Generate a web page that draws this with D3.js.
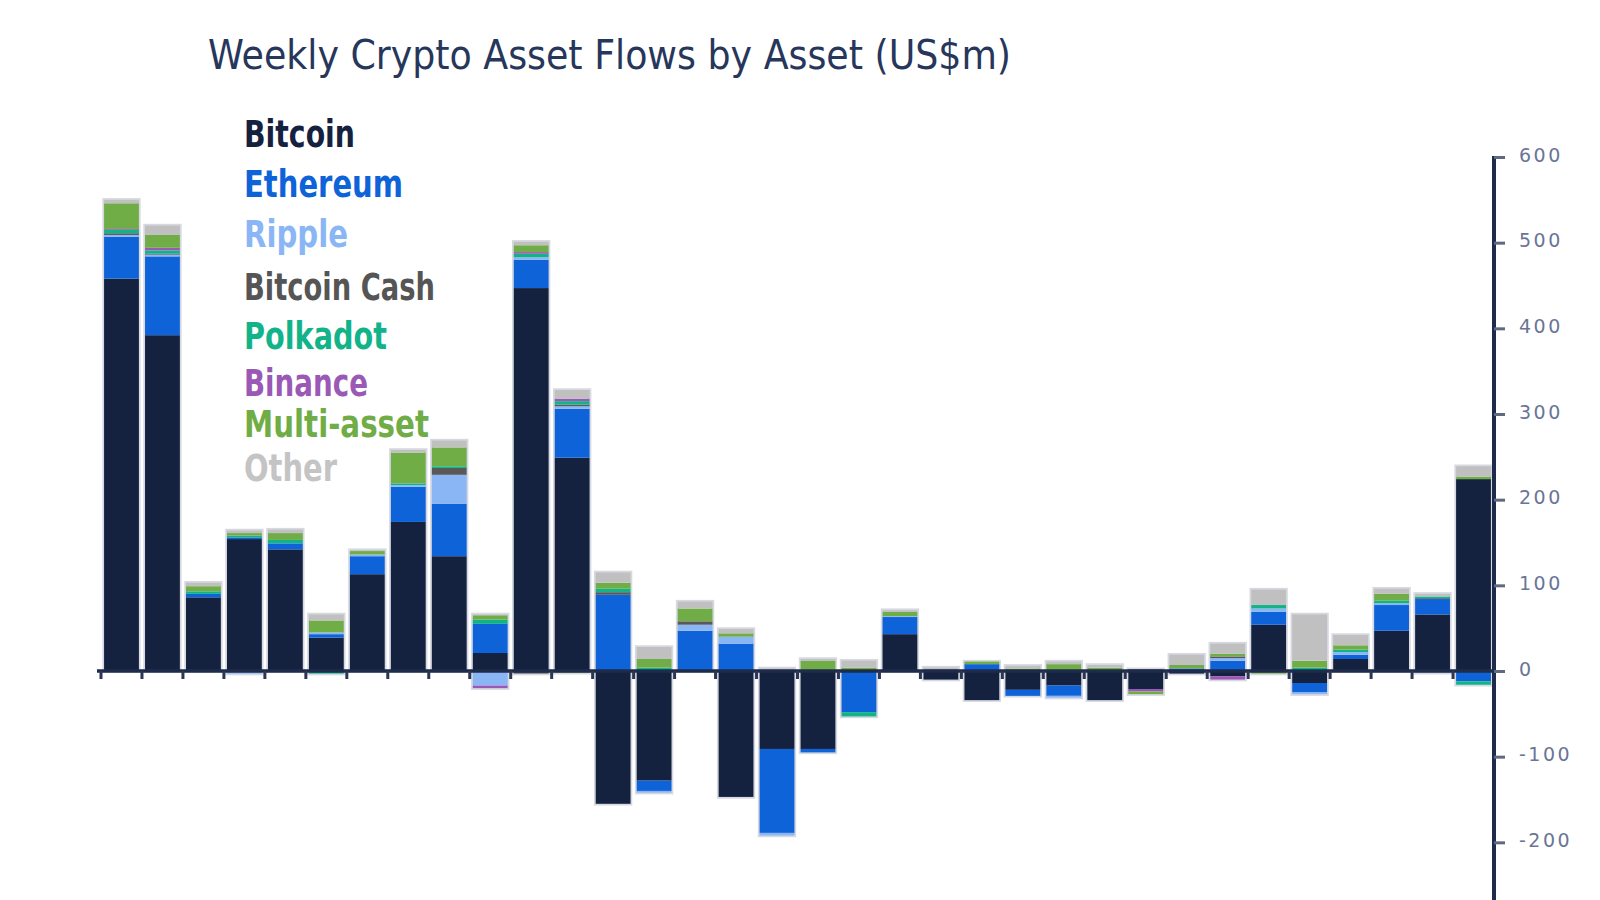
<!DOCTYPE html>
<html>
<head>
<meta charset="utf-8">
<script src="https://cdn.jsdelivr.net/npm/d3@7"></script>
<style>
  html, body { margin: 0; padding: 0; background: #ffffff; }
  svg { display: block; }
</style>
</head>
<body>
<svg id="chart" width="1600" height="900"></svg>
<script>
// ---------- DATA ----------
const weeks = ["W1","W2","W3","W4","W5","W6","W7","W8","W9","W10","W11","W12","W13","W14","W15","W16","W17",
               "W18","W19","W20","W21","W22","W23","W24","W25","W26","W27","W28","W29","W30","W31","W32","W33","W34"];

const seriesNames = ["Bitcoin","Ethereum","Ripple","Bitcoin Cash","Polkadot","Binance","Multi-asset","Other"];

const bitcoin     = [458,392,86,154,142,39,113,174,134,21,447,249,-155,-128,0,-147,-91,-91,0,43,-10,-34,-22,-17,-34,-21,-3,-6,54,-14,14,47,66,224];
const ethereum    = [49,92,4,2,7,4,21,41,61,34,33,57,89,-12,47,32,-98,-4,-48,20,0,8,-7,-12,0,0,3,12,15,-11,5,30,18,-12];
const ripple      = [2,2,0,-3,0,2,2,2,34,-17,3,3,0,-2,7,8,-3,0,0,1,0,0,0,-2,0,0,0,3,4,-2,3,2,-2,0];
const bitcoinCash = [2,1,0,0,0,0,0,0,8,0,-3,2,3,0,4,0,0,0,0,0,2,0,0,0,0,2,0,2,0,0,0,0,1,0];
const polkadot    = [4,4,3,2,4,-3,0,2,2,5,4,4,4,4,0,0,0,1,-5,0,0,0,0,0,0,0,0,0,4,4,3,3,2,-4];
const binance     = [1,3,0,0,0,0,0,0,0,-3,2,3,0,0,0,0,0,0,0,0,0,0,0,0,0,-3,0,-4,0,0,0,0,0,0];
const multiAsset  = [30,15,6,3,8,14,4,36,22,5,8,-2,7,10,15,4,0,11,4,5,0,3,3,8,4,-3,4,3,-3,8,5,8,0,3];
const other       = [4,11,4,3,4,7,1,3,8,1,4,10,12,14,8,5,3,2,8,2,2,0,3,3,3,0,12,12,18,54,12,6,3,12];

const yTicks = [-200,-100,0,100,200,300,400,500,600];

const colors = ["#14213f","#0f63d8","#8ab6f6","#595959","#12b389","#9b59b6","#70ad47","#c0c0c0"];
const legendColors = ["#14213f","#0f63d8","#8ab6f6","#555555","#12b389","#9b59b6","#70ad47","#c4c4c4"];

// ---------- BUILD TABLE ----------
const seriesArrays = [bitcoin, ethereum, ripple, bitcoinCash, polkadot, binance, multiAsset, other];
const table = weeks.map((w, i) => {
  const row = { week: w };
  seriesNames.forEach((s, k) => row[s] = seriesArrays[k][i]);
  return row;
});

const stacked = d3.stack()
  .keys(seriesNames)
  .offset(d3.stackOffsetDiverging)(table);

// ---------- SCALES ----------
const svg = d3.select("#chart");

const x = d3.scaleBand()
  .domain(weeks)
  .range([101, 1494])
  .paddingInner(0.15)
  .paddingOuter(0.075);

const y = d3.scaleLinear()
  .domain([-300, 600])
  .range([928, 157]);

// ---------- TITLE ----------
svg.append("text")
  .attr("x", 208)
  .attr("y", 69)
  .attr("textLength", 803)
  .attr("lengthAdjust", "spacingAndGlyphs")
  .style("font-family", "'DejaVu Sans Condensed', 'Liberation Sans Narrow', 'DejaVu Sans', sans-serif")
  .style("font-size", "40px")
  .style("fill", "#27365b")
  .text("Weekly Crypto Asset Flows by Asset (US$m)");

// ---------- BAR HALOS (soft outline seen in the reference) ----------
const extents = weeks.map((w, i) => {
  let lo = 0, hi = 0;
  stacked.forEach(layer => {
    lo = Math.min(lo, layer[i][0], layer[i][1]);
    hi = Math.max(hi, layer[i][0], layer[i][1]);
  });
  return { week: w, lo, hi };
});

svg.append("g").attr("class", "halos")
  .selectAll("rect")
  .data(extents)
  .join("rect")
  .attr("x", d => x(d.week))
  .attr("width", x.bandwidth())
  .attr("y", d => y(d.hi))
  .attr("height", d => y(d.lo) - y(d.hi))
  .attr("fill", "none")
  .attr("stroke", "#8a93a8")
  .attr("stroke-opacity", 0.35)
  .attr("stroke-width", 3.5);

// ---------- BARS ----------
const layers = svg.append("g").attr("class", "bars")
  .selectAll("g")
  .data(stacked)
  .join("g")
  .attr("fill", (d, i) => colors[i]);

layers.selectAll("rect")
  .data(d => d)
  .join("rect")
  .attr("x", d => x(d.data.week))
  .attr("width", x.bandwidth())
  .attr("y", d => y(Math.max(d[0], d[1])))
  .attr("height", d => Math.abs(y(d[0]) - y(d[1])));

// ---------- X AXIS (zero line with ticks between bars) ----------
const gx = svg.append("g").attr("class", "x-axis");
gx.append("line")
  .attr("x1", 97).attr("x2", 1494)
  .attr("y1", y(0)).attr("y2", y(0))
  .attr("stroke", "#1f2b4b")
  .attr("stroke-width", 3.5);

const half = x.step() * x.paddingInner() / 2;
gx.selectAll("line.tick")
  .data(weeks)
  .join("line")
  .attr("class", "tick")
  .attr("x1", d => x(d) - half)
  .attr("x2", d => x(d) - half)
  .attr("y1", y(0))
  .attr("y2", y(0) + 8)
  .attr("stroke", "#2a3654")
  .attr("stroke-width", 3);

// ---------- Y AXIS (right) ----------
const gy = svg.append("g")
  .attr("class", "y-axis")
  .attr("transform", "translate(1494,0)")
  .call(d3.axisRight(y)
    .tickValues(yTicks)
    .tickFormat(d => String(d))
    .tickSize(11)
    .tickSizeOuter(0)
    .tickPadding(14));

gy.select(".domain")
  .attr("stroke", "#1f2b4b")
  .attr("stroke-width", 4)
  .attr("d", `M0,${y(600) - 1}V${y(-300)}`);

gy.selectAll(".tick line")
  .attr("stroke", "#5f6982")
  .attr("stroke-width", 3);

gy.selectAll(".tick text")
  .style("font-family", "'DejaVu Sans', sans-serif")
  .style("font-size", "19px")
  .style("letter-spacing", "2.5px")
  .style("fill", "#6a7596")
  .attr("dy", "0.32em")
  .attr("y", -2);

// ---------- LEGEND ----------
const legendY = [147, 197, 247, 300, 349, 396, 437, 481];
const legendW = [111, 159, 104, 191, 143, 124, 185, 93];
svg.append("g").attr("class", "legend")
  .selectAll("text")
  .data(seriesNames)
  .join("text")
  .attr("x", 244)
  .attr("y", (d, i) => legendY[i])
  .attr("textLength", (d, i) => legendW[i])
  .attr("lengthAdjust", "spacingAndGlyphs")
  .style("font-family", "'DejaVu Sans', sans-serif")
  .style("font-weight", "bold")
  .style("font-size", "37px")
  .style("fill", (d, i) => legendColors[i])
  .text(d => d);
</script>
</body>
</html>
